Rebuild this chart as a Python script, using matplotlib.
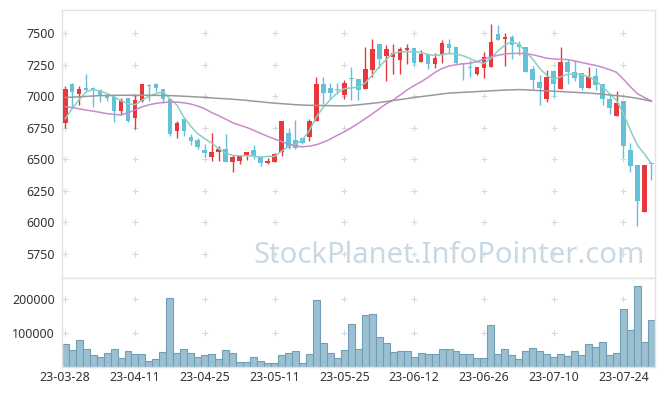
import numpy as np
import matplotlib.pyplot as plt

plt.rcParams['font.family'] = ['Noto Sans', 'DejaVu Sans']

# daily candles, 23-03-28 .. 23-07-28 (one entry per trading day)
opens = [6787, 7096, 7018, 7067, 7064, 7053, 7008, 6992, 6883, 6984,
         6827, 6963, 7088, 7096, 7061, 6981, 6723, 6822, 6673, 6649,
         6570, 6516, 6554, 6578, 6477, 6484, 6530, 6575, 6516, 6469,
         6477, 6556, 6708, 6649, 6665, 6676, 6803, 7096, 7069, 7059,
         7008, 7141, 7140, 7056, 7207, 7415, 7322, 7314, 7290, 7368,
         7386, 7274, 7332, 7258, 7332, 7415, 7388, 7266, 7232, 7173,
         7226, 7234, 7494, 7452, 7468, 7418, 7388, 7215, 7114, 6976,
         7199, 7056, 7271, 7196, 7183, 7066, 7159, 7101, 6981, 6840,
         6960, 6569, 6450, 6077, 6470]
highs = [7080, 7106, 7080, 7176, 7070, 7055, 7029, 7021, 6987, 6984,
         7013, 7101, 7096, 7106, 7061, 6981, 6803, 6822, 6702, 6668,
         6617, 6710, 6604, 6702, 6530, 6527, 6559, 6609, 6516, 6511,
         6548, 6801, 6750, 6809, 6672, 6822, 7150, 7149, 7106, 7106,
         7128, 7234, 7140, 7393, 7452, 7415, 7407, 7415, 7388, 7418,
         7386, 7367, 7332, 7340, 7444, 7455, 7388, 7266, 7287, 7232,
         7348, 7572, 7566, 7500, 7486, 7440, 7388, 7239, 7172, 7212,
         7212, 7393, 7292, 7287, 7183, 7234, 7228, 7101, 7008, 7040,
         6960, 6628, 6450, 6450, 6476]
lows = [6747, 6904, 6928, 7035, 6915, 6955, 6963, 6795, 6848, 6795,
        6742, 6952, 6963, 7032, 6950, 6681, 6670, 6684, 6609, 6580,
        6516, 6484, 6482, 6477, 6402, 6458, 6495, 6503, 6442, 6463,
        6477, 6524, 6583, 6583, 6620, 6641, 6803, 6941, 6976, 7016,
        6981, 6968, 6973, 7056, 7150, 7221, 7120, 7173, 7173, 7258,
        7250, 7270, 7213, 7221, 7266, 7332, 7255, 7133, 7154, 7165,
        7146, 7234, 7447, 7239, 7293, 7330, 7190, 7061, 6928, 6955,
        6994, 7056, 7101, 7119, 7053, 7066, 7053, 6928, 6862, 6840,
        6511, 6400, 5971, 6077, 6336]
closes = [7061, 7034, 7056, 7053, 7048, 7000, 6987, 6883, 6968, 6801,
          6968, 7096, 7080, 7069, 6976, 6702, 6787, 6724, 6641, 6596,
          6548, 6554, 6578, 6477, 6514, 6522, 6554, 6522, 6469, 6485,
          6538, 6801, 6591, 6591, 6630, 6801, 7096, 7027, 7027, 7053,
          7109, 7136, 7053, 7215, 7375, 7293, 7372, 7343, 7373, 7380,
          7266, 7332, 7255, 7306, 7423, 7386, 7266, 7253, 7226, 7229,
          7308, 7428, 7447, 7468, 7410, 7388, 7194, 7127, 7066, 7151,
          7095, 7271, 7191, 7146, 7066, 7151, 7090, 6976, 6907, 6944,
          6604, 6444, 6170, 6450, 6462]
volumes = [66800, 50400, 79300, 53300, 36000, 29300, 40800, 53300, 26500, 46600,
           38000, 38000, 18700, 24500, 43700, 202000, 40800, 53300, 40800, 29300,
           36000, 38000, 24500, 50400, 40800, 14900, 14900, 29300, 18700, 12000,
           12000, 36000, 40800, 47000, 12000, 38000, 194500, 70600, 40800, 26500,
           50400, 125400, 53300, 151300, 154200, 87000, 69700, 43700, 46600, 46600,
           29300, 40800, 38000, 38000, 53300, 53300, 46600, 38000, 38000, 26500,
           26500, 121600, 38000, 53300, 35200, 24500, 47000, 55300, 47000, 38000,
           29300, 38000, 32100, 47000, 35200, 66800, 58200, 72600, 35200, 40800,
           170600, 107200, 237800, 72600, 136000]

# moving averages as drawn on the chart
ma5 = [6822, 6902, 6973, 7035, 7053, 7042, 7021, 6995, 6963, 6941,
       6933, 6968, 7000, 7021, 7035, 6981, 6930, 6835, 6761, 6702,
       6663, 6628, 6583, 6548, 6530, 6527, 6527, 6524, 6516, 6522,
       6522, 6564, 6601, 6619, 6654, 6729, 6835, 6915, 6973, 7027,
       7061, 7066, 7074, 7106, 7167, 7234, 7292, 7340, 7354, 7354,
       7354, 7348, 7332, 7322, 7332, 7340, 7335, 7322, 7300, 7274,
       7261, 7300, 7359, 7407, 7433, 7412, 7354, 7295, 7220, 7167,
       7133, 7154, 7175, 7180, 7172, 7154, 7127, 7074, 7021, 6968,
       6861, 6729, 6609, 6543, 6463]
ma20 = [6918, 6910, 6900, 6890, 6882, 6872, 6862, 6855, 6852, 6868,
        6892, 6915, 6932, 6943, 6950, 6954, 6954, 6948, 6938, 6922,
        6900, 6870, 6845, 6818, 6790, 6770, 6752, 6730, 6705, 6682,
        6660, 6640, 6620, 6605, 6598, 6604, 6615, 6635, 6660, 6690,
        6718, 6750, 6785, 6822, 6860, 6900, 6940, 6970, 7010, 7050,
        7085, 7115, 7150, 7190, 7220, 7240, 7250, 7258, 7262, 7275,
        7295, 7313, 7325, 7336, 7340, 7341, 7338, 7330, 7316, 7302,
        7296, 7294, 7291, 7280, 7268, 7256, 7245, 7230, 7212, 7190,
        7135, 7075, 7020, 6990, 6962]
ma60 = [6990, 6993, 6996, 6999, 7002, 7005, 7006, 7007, 7008, 7008,
        7008, 7008, 7007, 7007, 7006, 7005, 7003, 7000, 6997, 6994,
        6990, 6987, 6983, 6980, 6976, 6972, 6967, 6961, 6956, 6950,
        6945, 6941, 6937, 6933, 6930, 6928, 6927, 6926, 6925, 6924,
        6923, 6927, 6932, 6938, 6944, 6950, 6958, 6966, 6974, 6982,
        6990, 6997, 7004, 7011, 7018, 7025, 7028, 7031, 7034, 7037,
        7040, 7043, 7046, 7049, 7051, 7053, 7051, 7048, 7045, 7042,
        7040, 7037, 7034, 7031, 7028, 7026, 7021, 7016, 7010, 7005,
        7000, 6992, 6983, 6972, 6960]

tick_labels = ['23-03-28', '23-04-11', '23-04-25', '23-05-11', '23-05-25',
               '23-06-12', '23-06-26', '23-07-10', '23-07-24']
price_ticks = [5750, 6000, 6250, 6500, 6750, 7000, 7250, 7500]
volume_ticks = [100000, 200000]

UP = '#e8383d'
DOWN = '#63c1d9'
GRID = '#d9d9d9'
SPINE = '#e3e3e3'

x = np.arange(len(opens))
o = np.array(opens)
c = np.array(closes)
up = c >= o
colors = np.where(up, UP, DOWN)
tick_pos = np.arange(len(tick_labels)) * 10

fig = plt.figure(figsize=(6.65, 3.96), dpi=100)
ax = fig.add_axes([0.0928, 0.298, 0.892, 0.677])
axv = fig.add_axes([0.0928, 0.0732, 0.892, 0.2248], sharex=ax)

# plus-shaped grid marks at the tick crossings
gx, gy = np.meshgrid(tick_pos, price_ticks)
ax.scatter(gx.ravel(), gy.ravel(), marker='+', s=22, color=GRID, linewidths=0.8, zorder=0)
gx, gy = np.meshgrid(tick_pos, volume_ticks)
axv.scatter(gx.ravel(), gy.ravel(), marker='+', s=22, color=GRID, linewidths=0.8, zorder=0)

ax.text(0.970, 0.354, 'StockPlanet.InfoPointer.com', transform=fig.transFigure,
        fontsize=21, color='#c9d9e4', ha='right', va='center', zorder=0)

# candles
ax.vlines(x, lows, highs, colors=colors, linewidth=1.0, zorder=2)
body = np.maximum(np.abs(c - o), 8)
ax.bar(x, body, bottom=np.minimum(o, c), width=0.66, color=colors, zorder=3)

ax.plot(x, ma5, color='#8ccfc3', linewidth=1.1, zorder=4)
ax.plot(x, ma20, color='#c98bc9', linewidth=1.1, zorder=4)
ax.plot(x, ma60, color='#999999', linewidth=1.1, zorder=4)

axv.bar(x, volumes, width=1.0, color='#9bc0d1', edgecolor='#6f9eb6', linewidth=0.8, zorder=2)

ax.set_xlim(-0.5, len(opens) - 0.5)
ax.set_ylim(5556, 7686)
axv.set_ylim(0, 260000)

ax.set_yticks(price_ticks)
ax.set_yticklabels([str(t) for t in price_ticks])
axv.set_yticks(volume_ticks)
axv.set_yticklabels([str(t) for t in volume_ticks])
axv.set_xticks(tick_pos)
axv.set_xticklabels(tick_labels)

for a in (ax, axv):
    for s in a.spines.values():
        s.set_color(SPINE)
        s.set_linewidth(1.0)
    a.tick_params(axis='both', length=0, labelsize=9, labelcolor='#333333', pad=5)
ax.tick_params(axis='x', labelbottom=False)
axv.tick_params(axis='x', pad=3)

fig.savefig('out.png', dpi=100)
